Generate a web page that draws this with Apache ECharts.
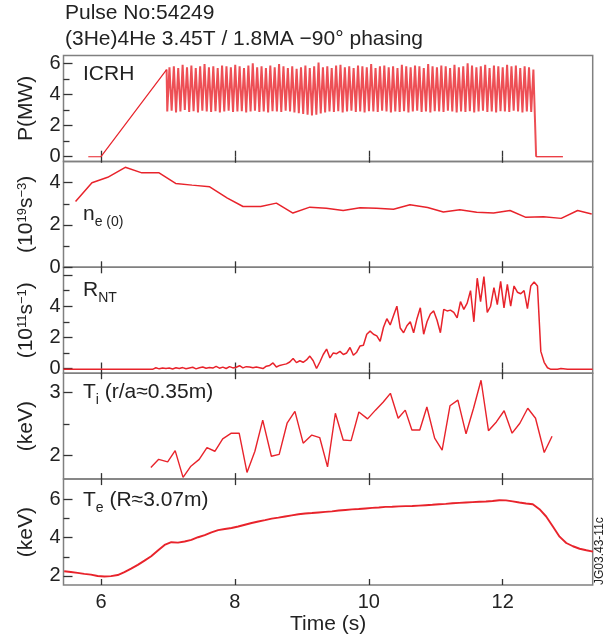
<!DOCTYPE html>
<html><head><meta charset="utf-8">
<script src="https://cdn.jsdelivr.net/npm/echarts@6/dist/echarts.min.js"></script>
<style>html,body{margin:0;padding:0;background:#fff}#c{width:616px;height:641px}</style>
</head><body><div id="c"></div>
<script>
// ---------- DATA ----------
const xTicks = [6, 8, 10, 12];
const xMin = 5.44, xMax = 13.345;

// ICRH power (MW)
const icrhRampT = [5.81, 6.0, 6.98];
const icrhRampV = [0, 0, 5.6];
const icrhModStart = 6.99, icrhModPeriod = 0.0655;
const icrhHigh = [5.75,5.8,5.7,5.9,5.75,5.85,5.7,5.8,5.95,5.75,5.8,5.7,5.85,5.8,5.75,5.9,5.8,5.7,5.85,6.0,5.75,5.8,5.7,5.85,5.75,5.95,5.8,5.7,5.8,5.65,5.75,5.85,5.7,5.8,6.05,5.75,5.8,5.7,5.85,5.9,5.75,5.8,5.7,5.85,5.8,5.75,5.95,5.7,5.8,5.85,5.75,5.8,5.7,5.9,5.8,5.75,5.85,5.8,5.7,5.95,5.8,5.75,5.85,5.8,5.7,5.9,5.75,5.8,6.0,5.85,5.75,5.8,5.9,5.7,5.85,5.8,5.75,5.9,5.8,5.85,5.7,5.8,5.75,5.6];
const icrhLow = [2.9,2.95,2.85,2.9,3.0,2.88,2.92,2.85,2.95,2.9,2.88,2.93,2.85,2.9,2.95,2.87,2.9,2.92,2.85,2.9,2.95,2.88,2.9,2.85,2.92,2.9,2.87,2.95,2.9,2.85,2.8,2.75,2.7,2.65,2.7,2.78,2.85,2.9,2.88,2.92,2.85,2.9,2.95,2.88,2.9,2.85,2.92,2.9,2.87,2.95,2.9,2.85,2.9,2.88,2.92,2.85,2.9,2.95,2.88,2.9,2.85,2.92,2.9,2.87,2.95,2.9,2.85,2.9,2.88,2.92,2.85,2.9,2.95,2.88,2.9,2.85,2.92,2.9,2.87,2.95,2.9,2.85,2.9,2.88];
const icrhTailT = [12.5, 12.9];
const icrhTailV = [0, 0];

// central electron density (1e19 m^-3)
const neT = [5.62,5.865,6.10,6.363,6.61,6.862,7.115,7.36,7.624,7.888,8.122,8.386,8.62,8.867,9.12,9.366,9.618,9.87,10.117,10.369,10.615,10.879,11.114,11.36,11.612,11.864,12.11,12.347,12.61,12.874,13.12,13.33];
const neV = [3.11,3.99,4.25,4.72,4.46,4.47,3.96,3.88,3.80,3.27,2.87,2.87,3.03,2.56,2.84,2.79,2.68,2.81,2.79,2.74,2.95,2.82,2.61,2.72,2.60,2.56,2.68,2.36,2.39,2.31,2.68,2.52];

// neutron rate R_NT (1e11 s^-1)
const rntEdgeT = [5.44, 6.72, 12.97, 13.345];
const rntEdgeV = [-0.05, -0.05, -0.05, -0.05];
const rntStart = 6.77, rntStep = 0.05;
const rntV = [-0.05,0.05,-0.02,0.04,0.0,0.03,-0.03,0.05,0.0,0.06,-0.01,0.04,0.08,-0.02,0.05,0.1,0.02,0.07,0.03,0.14,0.02,0.09,0.0,0.12,0.04,0.08,0.18,0.04,0.12,
  0.1,0.05,0.1,0.05,0.0,0.15,0.2,0.36,0.1,0.2,
  0.25,0.3,0.42,0.64,0.38,0.5,0.4,0.55,0.8,0.5,
  0.0,0.42,0.9,1.25,0.68,1.0,0.95,1.1,0.9,1.0,
  1.35,0.85,1.05,1.45,1.5,2.2,2.4,2.2,2.1,1.75,
  2.65,3.2,2.8,3.4,4.0,2.6,2.3,2.75,3.0,2.3,
  3.2,3.9,2.2,3.0,3.5,3.7,3.1,2.3,3.8,3.7,
  3.75,3.6,3.25,4.3,3.8,4.2,5.0,3.0,5.8,4.3,
  5.9,3.6,4.0,5.2,4.1,5.6,3.9,5.4,4.0,5.3,
  4.9,4.8,5.0,3.85,5.3,5.55,5.3,1.1,0.4,0.05,
  -0.05,-0.05,-0.05,0.0];

// ion temperature (keV)
const tiT = [6.745,6.862,6.996,7.108,7.226,7.343,7.467,7.583,7.701,7.818,7.947,8.064,8.181,8.299,8.416,8.545,8.662,8.780,8.897,9.020,9.149,9.267,9.384,9.501,9.618,9.736,9.852,9.982,10.10,10.217,10.323,10.439,10.545,10.644,10.762,10.868,10.984,11.096,11.213,11.331,11.453,11.565,11.677,11.788,11.906,12.022,12.141,12.257,12.375,12.491,12.621,12.738];
const tiV = [1.80,1.93,1.89,2.07,1.64,1.82,1.93,2.12,2.06,2.26,2.35,2.35,1.72,2.06,2.56,1.98,2.01,2.51,2.70,2.19,2.32,2.28,1.81,2.67,2.24,2.23,2.69,2.58,2.72,2.85,2.99,2.59,2.72,2.40,2.40,2.77,2.27,2.08,2.79,2.88,2.34,2.75,3.20,2.39,2.53,2.71,2.35,2.51,2.75,2.59,2.04,2.30];

// electron temperature (keV)
const teStart = 5.45, teStep = 0.1;
const teV = [2.25,2.21,2.16,2.11,2.07,2.00,1.97,1.99,2.05,2.20,2.38,2.58,2.80,3.03,3.33,3.62,3.76,3.74,3.80,3.88,4.02,4.13,4.27,4.39,4.45,4.50,4.58,4.67,4.76,4.84,4.91,4.99,5.04,5.10,5.16,5.22,5.26,5.28,5.31,5.34,5.37,5.41,5.44,5.47,5.49,5.52,5.55,5.57,5.60,5.61,5.63,5.64,5.65,5.67,5.69,5.71,5.74,5.76,5.79,5.81,5.83,5.85,5.87,5.88,5.91,5.95,5.94,5.89,5.83,5.78,5.74,5.48,5.10,4.58,4.05,3.72,3.55,3.42,3.34,3.27];

// axis tick values
const yTicks = [
  {min:-0.3, max:6.5, major:[0,2,4,6], minor:[1,3,5], labels:[0,2,4,6]},
  {min:0, max:5, major:[0,2,4], minor:[1,3], labels:[0,2,4]},
  {min:-0.3, max:6.5, major:[0,2,4,6], minor:[1,3,5], labels:[0,2,4]},
  {min:1.613, max:3.313, major:[2,3], minor:[2.5], labels:[2,3]},
  {min:1.53, max:7.05, major:[2,4,6], minor:[3,5], labels:[2,4,6]}
];
const yNames = ['P(MW)', '{m|(10}{sup|19}{m|s}{sup|−3}{m|)}', '{m|(10}{sup|11}{m|s}{sup|−1}{m|)}', '(keV)', '(keV)'];

// ---------- BUILD ----------
const pairs = (ts, vs) => ts.map((t, i) => [t, vs[i]]);
const icrhRamp = pairs(icrhRampT, icrhRampV);
const icrhMod = [[icrhRampT[2], icrhRampV[2]]];
icrhHigh.forEach((h, i) => {
  const t = icrhModStart + i * icrhModPeriod;
  icrhMod.push([t, icrhLow[i]]);
  icrhMod.push([t + 0.5 * icrhModPeriod, h]);
});
icrhMod.push([icrhTailT[0], icrhTailV[0]]);
const icrhTail = pairs(icrhTailT, icrhTailV);

const rntData = [[rntEdgeT[0], rntEdgeV[0]], [rntEdgeT[1], rntEdgeV[1]]];
rntV.forEach((v, i) => rntData.push([rntStart + i * rntStep, v]));
rntData.push([rntEdgeT[2], rntEdgeV[2]], [rntEdgeT[3], rntEdgeV[3]]);

const teData = teV.map((v, i) => [teStart + i * teStep, v]);

const FONT = '"Liberation Sans", Arial, Helvetica, sans-serif';
const RED = '#e8232b';
const TXT = '#222';
const tops = [55.5, 161.4, 267.3, 373.2, 479.1];
const H = 105.9;

const grids = tops.map(t => ({left: 63.5, right: 23.3, top: t, height: H, show: true, borderColor: '#808080', borderWidth: 1.5, backgroundColor: 'transparent'}));

const xAxes = [];
tops.forEach((t, i) => {
  ['bottom', 'top'].forEach(pos => {
    const isLabel = (i === 4 && pos === 'bottom');
    xAxes.push({
      gridIndex: i, type: 'value', position: pos, min: xMin, max: xMax,
      axisLine: {show: false}, splitLine: {show: false},
      axisTick: {show: true, inside: true, length: 6, customValues: xTicks, lineStyle: {color: '#333', width: 1.3}},
      axisLabel: {show: isLabel, customValues: xTicks, margin: 7, fontSize: 20, color: TXT, fontFamily: FONT},
      name: isLabel ? 'Time (s)' : '', nameLocation: 'middle', nameGap: 29,
      nameTextStyle: {fontSize: 21, color: TXT, fontFamily: FONT}
    });
  });
});

const yAxes = [];
yTicks.forEach((yt, i) => {
  yAxes.push({
    gridIndex: i, type: 'value', position: 'left', min: yt.min, max: yt.max,
    axisLine: {show: false}, splitLine: {show: false},
    axisTick: {show: true, inside: true, length: 9, customValues: yt.major, lineStyle: {color: '#333', width: 1.3}},
    axisLabel: {customValues: yt.labels, margin: 3, fontSize: 20, color: TXT, fontFamily: FONT},
    name: yNames[i], nameLocation: 'middle', nameGap: 27, nameRotate: 90,
    nameTextStyle: {fontSize: 21, color: TXT, fontFamily: FONT,
      rich: {m: {fontSize: 21, lineHeight: 21, verticalAlign: 'top', color: TXT, fontFamily: FONT},
             sup: {fontSize: 13, lineHeight: 13, verticalAlign: 'top', color: TXT, fontFamily: FONT}}}
  });
  yAxes.push({
    gridIndex: i, type: 'value', position: 'left', min: yt.min, max: yt.max,
    axisLine: {show: false}, splitLine: {show: false},
    axisTick: {show: true, inside: true, length: 6, customValues: yt.minor, lineStyle: {color: '#333', width: 1.3}},
    axisLabel: {show: false}
  });
});

const line = (i, data, w, op) => ({
  type: 'line', xAxisIndex: 2 * i, yAxisIndex: 2 * i, data: data, showSymbol: false, symbol: 'none',
  lineStyle: {color: RED, width: w, opacity: op || 1}, clip: true, animation: false
});

const richSub = {
  b: {fontSize: 21, lineHeight: 21, verticalAlign: 'top', fill: TXT, fontFamily: FONT},
  s: {fontSize: 14, lineHeight: 14, padding: [11, 0, 0, 0], verticalAlign: 'top', fill: TXT, fontFamily: FONT}
};
const label = (x, y, text) => ({type: 'text', left: x, top: y, z: 100,
  style: {text: text, rich: richSub, font: '21px ' + FONT, fill: TXT}});

const option = {
  animation: false,
  backgroundColor: '#fff',
  grid: grids,
  xAxis: xAxes,
  yAxis: yAxes,
  series: [
    line(0, icrhRamp, 1.2),
    line(0, icrhMod, 2.0, 0.8),
    line(0, icrhTail, 1.2),
    line(1, pairs(neT, neV), 1.5),
    line(2, rntData, 1.5),
    line(3, pairs(tiT, tiV), 1.4),
    line(4, teData, 1.9)
  ],
  graphic: [
    {type: 'text', left: 65, top: 3, style: {text: 'Pulse No:54249', font: '21px ' + FONT, fill: TXT}},
    {type: 'text', left: 65, top: 29, style: {text: '(3He)4He 3.45T / 1.8MA \u221290\u00b0 phasing', font: '21px ' + FONT, fill: TXT}},
    {type: 'text', left: 83, top: 64, style: {text: 'ICRH', font: '21px ' + FONT, fill: TXT}},
    label(83, 204, '{b|n}{s|e (0)}'),
    label(83, 280, '{b|R}{s|NT}'),
    label(83, 382, '{b|T}{s|i}{b| (r/a\u22480.35m)}'),
    label(83, 490, '{b|T}{s|e}{b| (R\u22483.07m)}'),
    {type: 'text', x: 600, y: 585, rotation: Math.PI / 2,
      style: {text: 'JG03.43-11c', font: '12px ' + FONT, fill: TXT, align: 'left', verticalAlign: 'middle'}}
  ]
};
const chart = echarts.init(document.getElementById('c'), null, {renderer: 'canvas'});
chart.setOption(option);
</script>
</body></html>
